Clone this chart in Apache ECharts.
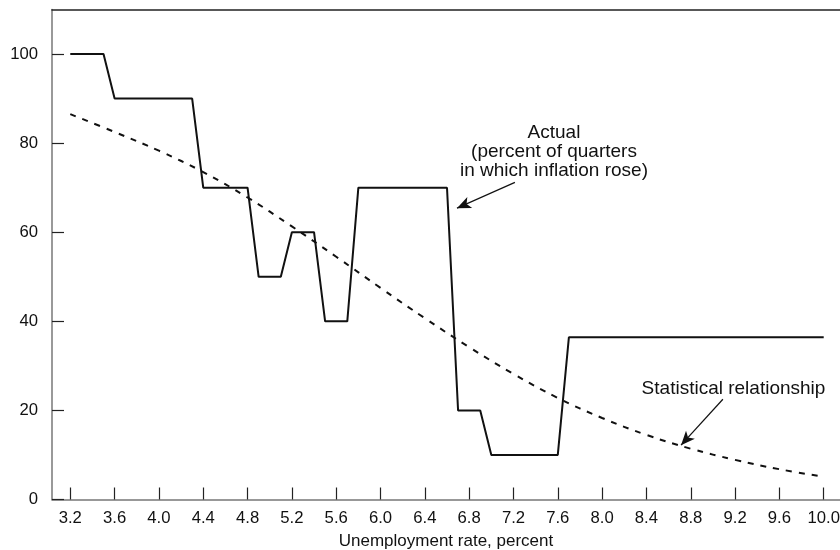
<!DOCTYPE html>
<html>
<head>
<meta charset="utf-8">
<script src="https://cdn.jsdelivr.net/npm/echarts@6/dist/echarts.min.js"></script>
<style>
html,body{margin:0;padding:0;background:#fff;}
#chart{width:840px;height:550px;}
</style>
</head>
<body>
<div id="chart"></div>
<script>
// Tick values
const xTicks = [3.2, 3.6, 4.0, 4.4, 4.8, 5.2, 5.6, 6.0, 6.4, 6.8, 7.2, 7.6, 8.0, 8.4, 8.8, 9.2, 9.6, 10.0];
const yTicks = [0, 20, 40, 60, 80, 100];

// Actual (percent of quarters in which inflation rose)
const actualX = [3.2, 3.5, 3.6, 4.3, 4.4, 4.8, 4.9, 5.1, 5.2, 5.4, 5.5, 5.7, 5.8, 6.6, 6.7, 6.9, 7.0, 7.6, 7.7, 10.0];
const actualY = [100, 100, 90, 90, 70, 70, 50, 50, 60, 60, 40, 40, 70, 70, 20, 20, 10, 10, 36.4, 36.4];

// Statistical relationship
const statX = [3.2, 3.6, 4.0, 4.4, 4.8, 5.2, 5.6, 6.0, 6.4, 6.8, 7.2, 7.6, 8.0, 8.4, 8.8, 9.2, 9.6, 10.0];
const statY = [86.5, 82.5, 78.3, 73.5, 67.8, 61.3, 54.5, 47.5, 40.7, 34.2, 28.2, 22.8, 18.3, 14.5, 11.4, 8.9, 6.8, 5.1];

const FONT = '"Liberation Sans", Arial, Helvetica, sans-serif';

const chart = echarts.init(document.getElementById('chart'), null, {renderer: 'canvas'});

const actualData = actualX.map((x, i) => [x, actualY[i]]);
const statData = statX.map((x, i) => [x, statY[i]]);

chart.setOption({
  animation: false,
  backgroundColor: '#fff',
  grid: {left: 52, right: 0, top: 9.5, bottom: 50.5, outerBoundsMode: 'none', containLabel: false},
  xAxis: [{
    type: 'value',
    min: 3.035,
    max: 10.147,
    name: 'Unemployment rate, percent',
    nameLocation: 'middle',
    nameGap: 33,
    nameTextStyle: {fontFamily: FONT, fontSize: 17, color: '#111'},
    axisLine: {show: true, onZero: false, lineStyle: {color: '#777', width: 1.5}},
    axisTick: {show: true, inside: true, length: 12, customValues: xTicks, lineStyle: {color: '#222', width: 1.2}},
    axisLabel: {show: true, margin: 10, customValues: xTicks, fontFamily: FONT, fontSize: 16.7, color: '#111',
      formatter: v => v.toFixed(1)},
    splitLine: {show: false}
  }, {
    type: 'value',
    position: 'top',
    min: 3.035,
    max: 10.147,
    axisLine: {show: true, onZero: false, lineStyle: {color: '#222', width: 1.5}},
    axisTick: {show: false},
    axisLabel: {show: false},
    splitLine: {show: false}
  }],
  yAxis: {
    type: 'value',
    min: 0,
    max: 110,
    axisLine: {show: true, onZero: false, lineStyle: {color: '#777', width: 1.5}},
    axisTick: {show: true, inside: true, length: 12, customValues: yTicks, lineStyle: {color: '#222', width: 1.2}},
    axisLabel: {show: true, margin: 14, customValues: yTicks, fontFamily: FONT, fontSize: 16.7, color: '#111'},
    splitLine: {show: false}
  },
  series: [{
    name: 'Actual',
    type: 'line',
    data: actualData,
    showSymbol: false,
    symbol: 'none',
    lineStyle: {color: '#111', width: 2},
    silent: true,
    markLine: {
      silent: true,
      symbol: ['none', 'arrow'],
      symbolSize: [9, 14],
      label: {show: false},
      lineStyle: {color: '#111', width: 1.2, type: 'solid'},
      itemStyle: {color: '#111'},
      emphasis: {disabled: true},
      data: [
        [{coord: [7.213, 71.2]}, {coord: [6.69, 65.4]}],
        [{coord: [9.09, 22.5]}, {coord: [8.712, 12.2]}]
      ]
    }
  }, {
    name: 'Statistical relationship',
    type: 'line',
    data: statData,
    smooth: 0.4,
    showSymbol: false,
    symbol: 'none',
    silent: true,
    lineStyle: {color: '#111', width: 2, type: [6, 7]}
  }],
  graphic: [{
    type: 'text',
    x: 554,
    y: 151.7,
    style: {
      text: 'Actual\n(percent of quarters\nin which inflation rose)',
      align: 'center',
      verticalAlign: 'middle',
      fontFamily: FONT,
      fontSize: 19,
      lineHeight: 18.7,
      fill: '#111'
    }
  }, {
    type: 'text',
    x: 733.5,
    y: 389,
    style: {
      text: 'Statistical relationship',
      align: 'center',
      verticalAlign: 'middle',
      fontFamily: FONT,
      fontSize: 19,
      fill: '#111'
    }
  }]
});
</script>
</body>
</html>
